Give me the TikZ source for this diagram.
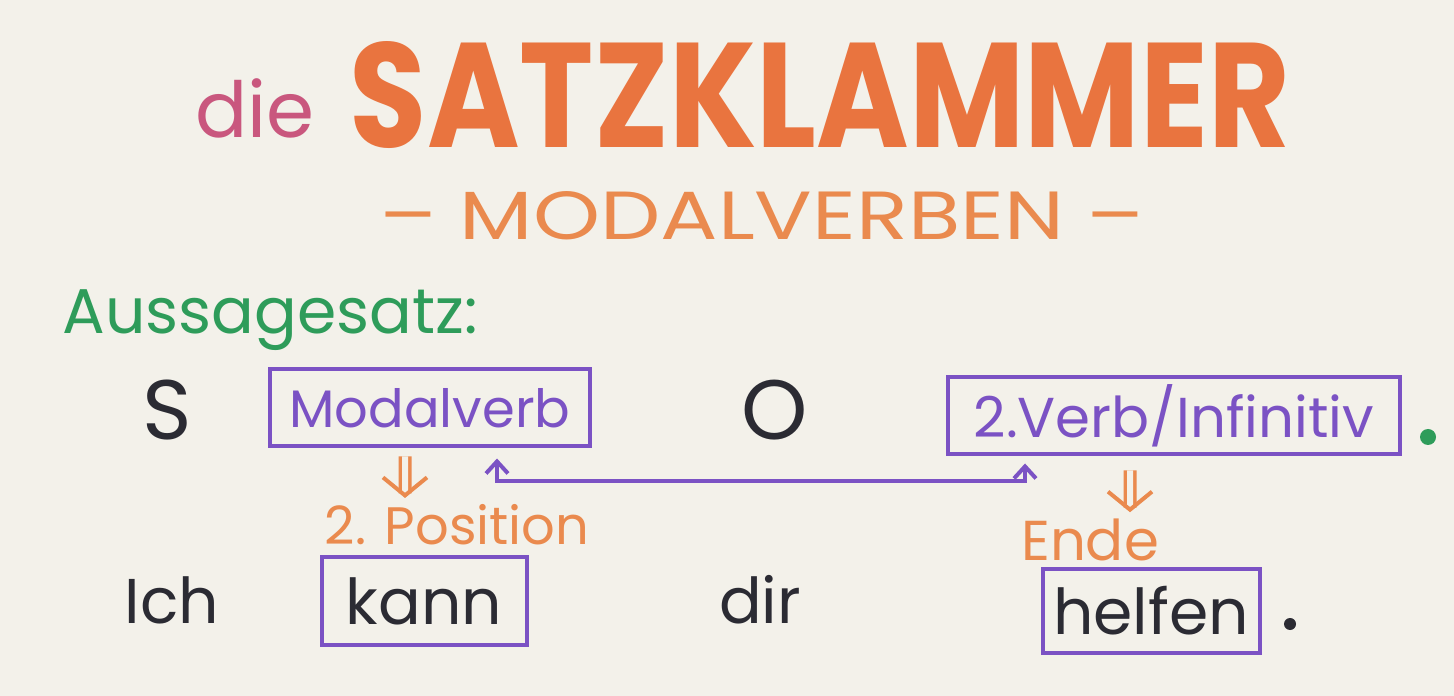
\documentclass[tikz,border=0pt]{standalone}
\usepackage{fontspec}
\usepackage{graphicx}
\setmainfont{Poppins}
\usepackage{tikz}
\usetikzlibrary{arrows.meta,positioning}
\definecolor{paper}{HTML}{F3F1EA}
\definecolor{lila}{HTML}{7B52C4}
\definecolor{orangetitle}{HTML}{E9743F}
\definecolor{orangetext}{HTML}{EA8A4E}
\definecolor{rosa}{HTML}{C9577E}
\definecolor{gruen}{HTML}{2E9C5A}
\definecolor{tinte}{HTML}{2B2B33}
\tikzstyle{word}=[inner sep=0pt,text=tinte,font=\fontsize{18}{20}\selectfont]
\tikzstyle{box}=[rectangle,draw=lila,line width=0.4mm,inner sep=0pt]
\tikzstyle{label}=[inner sep=0pt,text=orangetext,font=\fontsize{15}{17}\selectfont]
\tikzstyle{implies}=[orangetext,line width=0.35mm,double=paper,double distance=0.6mm,-{Straight Barb[length=1.8mm,width=4.4mm,line width=0.4mm]}]
\tikzstyle{bracket}=[lila,line width=0.4mm,{Straight Barb[length=1.2mm,width=2.2mm]}-{Straight Barb[length=1.2mm,width=2.2mm]}]

\begin{document}
\begin{tikzpicture}[x=0.1mm,y=-0.1mm]
        \fill[paper] (0,0) rectangle (1454,696);

        \node at (255,108) [inner sep=0pt,text=rosa,font=\fontsize{22}{24}\selectfont] (die) {die};
        \node at (820,95)  [inner sep=0pt,text=orangetitle] (titel) {\resizebox{94mm}{10.6mm}{\bfseries SATZKLAMMER}};
        \node at (762,216) [inner sep=0pt,text=orangetext] (modal) {\resizebox{76.5mm}{4.8mm}{-- MODALVERBEN --}};
        \node at (62,320)  [anchor=west,inner sep=0pt,text=gruen,font=\fontsize{18}{20}\selectfont] (satz) {Aussagesatz:};

        \node at (167,410) [word,font=\fontsize{24}{26}\selectfont] (s) {S};
        \node at (430,408) [box,minimum width=32mm,minimum height=7.7mm,text=lila,font=\fontsize{15}{17}\selectfont] (mv) {Modalverb};
        \node at (775,410) [word,font=\fontsize{24}{26}\selectfont] (o) {O};
        \node at (1174,416) [box,minimum width=45.2mm,minimum height=7.7mm,text=lila,font=\fontsize{16}{18}\selectfont] (inf) {2.Verb/Infinitiv};
        \node at (1428,437) [circle,fill=gruen,minimum size=1.6mm,inner sep=0pt] (punkt1) {};

        \node at (457,525) [label] (pos) {2. Position};
        \node at (1090,540) [label,font=\fontsize{16}{18}\selectfont] (ende) {Ende};

        \node at (172,600) [word] (ich) {Ich};
        \node at (424,601) [box,minimum width=20.5mm,minimum height=8.7mm,text=tinte,font=\fontsize{18}{20}\selectfont] (kann) {kann};
        \node at (760,600) [word] (dir) {dir};
        \node at (1151,611) [box,minimum width=21.7mm,minimum height=8.3mm,text=tinte,font=\fontsize{18}{20}\selectfont] (helfen) {helfen};
        \node at (1290,624) [circle,fill=tinte,minimum size=1.2mm,inner sep=0pt] (punkt2) {};

        \draw [bracket,shorten <=1mm,shorten >=0.7mm] ([xshift=6.7mm]mv.south) -- ++(0,33) -| ([xshift=-14.9mm]inf.south);
        \draw [implies] ([xshift=-2.5mm,yshift=-0.8mm]mv.south) -- ([xshift=-5.2mm,yshift=0.6mm]pos.north);
        \draw [implies] ([xshift=-4.4mm,yshift=-1.4mm]inf.south) -- ([xshift=4mm,yshift=0.6mm]ende.north);
\end{tikzpicture}
\end{document}
